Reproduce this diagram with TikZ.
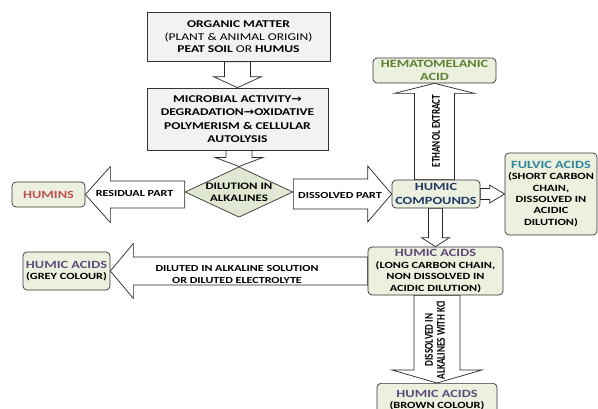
\documentclass[tikz,border=0pt]{standalone}
\usepackage{fontspec}
\setmainfont{Carlito}[FakeStretch=1.3]
\newfontfamily\arrfont{DejaVu Sans}[FakeStretch=1.2]
\newfontfamily\rotfont{Carlito}
\usetikzlibrary{shapes.geometric,backgrounds}

\definecolor{boxgreen}{HTML}{EBF1DE}
\definecolor{diagreen}{HTML}{E1E8D2}
\definecolor{boxgrey}{HTML}{F2F2F2}
\definecolor{huminred}{HTML}{C0504D}
\definecolor{hemagreen}{HTML}{5F7F32}
\definecolor{compblue}{HTML}{1F3864}
\definecolor{fulvteal}{HTML}{31859C}
\definecolor{acidpurple}{HTML}{604A7B}

\newcommand{\tarr}{{\arrfont\bfseries →}}
\newcommand{\ttl}[2]{{\color{#1}\fontsize{11}{13}\selectfont #2}}

% block arrow, vertical: start, tip, half shaft, half head, head length (+ down, - up)
\newcommand{\vblock}[5]{%
  \coordinate (vs) at (#1 -| #2);
  \draw[blk] ([xshift=-#3]vs) -- ([xshift=-#3,yshift=#5]#2) -- ([xshift=-#4,yshift=#5]#2)
    -- (#2) -- ([xshift=#4,yshift=#5]#2) -- ([xshift=#3,yshift=#5]#2) -- ([xshift=#3]vs) -- cycle;}
% block arrow, horizontal: start, tip, half shaft, half head, head length (+ left, - right)
\newcommand{\hblock}[5]{%
  \coordinate (hs) at (#1 |- #2);
  \draw[blk] ([yshift=#3]hs) -- ([xshift=#5,yshift=#3]#2) -- ([xshift=#5,yshift=#4]#2)
    -- (#2) -- ([xshift=#5,yshift=-#4]#2) -- ([xshift=#5,yshift=-#3]#2) -- ([yshift=-#3]hs) -- cycle;}

\begin{document}
\begin{tikzpicture}[x=1pt,y=-1pt,
  greybox/.style={draw=black!80, fill=boxgrey, align=center, inner sep=2pt, line width=0.7pt},
  greenbox/.style={draw=black!80, fill=boxgreen, rounded corners=4pt, align=center, inner sep=1pt,
    line width=0.7pt, font=\bfseries\fontsize{9.5}{11.6}\selectfont},
  decision/.style={diamond, draw=black!80, fill=diagreen, aspect=2.1, inner sep=0pt,
    minimum width=108pt, minimum height=50pt, align=center, line width=0.7pt,
    font=\bfseries\fontsize{9.9}{12}\selectfont},
  blk/.style={draw=black!85, fill=white, line width=0.7pt},
  lbl/.style={align=center, inner sep=0pt, font=\bfseries\fontsize{9.3}{12}\selectfont},
  rotlbl/.style={align=center, inner sep=0pt, rotate=90, yscale=1.3,
    font=\rotfont\bfseries\fontsize{9.2}{9.4}\selectfont}
]
  \useasboundingbox (0,0) rectangle (598,408);

  \node[greybox, minimum width=183pt, minimum height=49pt, font=\fontsize{10.4}{12.5}\selectfont]
    (org) at (238.5,37) {\textbf{ORGANIC MATTER}\\(PLANT \& ANIMAL ORIGIN)\\\textbf{PEAT SOIL} OR \textbf{HUMUS}};
  \node[greybox, minimum width=181pt, minimum height=62pt, font=\bfseries\fontsize{10.4}{13.5}\selectfont]
    (micro) at (237.5,119) {MICROBIAL ACTIVITY\tarr\\DEGRADATION\tarr OXIDATIVE\\POLYMERISM \& CELLULAR\\AUTOLYSIS};
  \node[decision] (dil) at (239,192) {DILUTION IN\\ALKALINES};

  \node[greenbox, minimum width=73pt, minimum height=25pt, text=huminred, font=\bfseries\fontsize{11}{13}\selectfont]
    (humins) at (48.5,194.5) {HUMINS};
  \node[greenbox, minimum width=88pt, minimum height=28pt, text=compblue, font=\bfseries\fontsize{11}{13.3}\selectfont]
    (hc) at (436,194) {HUMIC\\COMPOUNDS};
  \node[greenbox, minimum width=123pt, minimum height=25pt, text=hemagreen, font=\bfseries\fontsize{11}{12.5}\selectfont]
    (hema) at (434.5,70.5) {HEMATOMELANIC\\ACID};
  \node[greenbox, minimum width=92pt, minimum height=82pt, font=\bfseries\fontsize{9.5}{11.3}\selectfont]
    (fulvic) at (551,194) {\ttl{fulvteal}{FULVIC ACIDS}\\(SHORT CARBON\\CHAIN,\\DISSOLVED IN\\ACIDIC\\DILUTION)};
  \node[greenbox, minimum width=135pt, minimum height=48pt]
    (ha) at (435.5,271) {\ttl{acidpurple}{HUMIC ACIDS}\\(LONG CARBON CHAIN,\\NON DISSOLVED IN\\ACIDIC DILUTION)};
  \node[greenbox, minimum width=87pt, minimum height=38pt, font=\bfseries\fontsize{9.5}{11}\selectfont]
    (grey) at (66.5,271) {\ttl{acidpurple}{HUMIC ACIDS}\\(GREY COLOUR)};
  \node[greenbox, anchor=north, minimum width=120pt, minimum height=34pt, font=\bfseries\fontsize{9.5}{11.5}\selectfont]
    (brown) at (437,383) {\ttl{acidpurple}{HUMIC ACIDS}\\(BROWN COLOUR)};

  % arrow labels
  \node[lbl] (resid) at (134.5,193) {RESIDUAL PART};
  \node[lbl] (dissol) at (340,195) {DISSOLVED PART};
  \node[lbl] (dilut) at (237,274) {DILUTED IN ALKALINE SOLUTION\\OR DILUTED ELECTROLYTE};
  \node[rotlbl] (ethan) at (436,131) {ETHANOL EXTRACT};
  \node[rotlbl] (kcl) at (435,340) {DISSOLVED IN\\ALKALINES WITH KCl};

  \begin{scope}[on background layer]
    \vblock{org.south}{micro.north}{13}{24}{11}
    \vblock{micro.south}{dil.north}{13}{24}{9}
    \hblock{dil.west}{humins.east}{13.5}{28}{25}
    \hblock{dil.east}{hc.west}{15}{28}{-24}
    \vblock{hc.north}{hema.south}{20}{40}{-10}
    \hblock{hc.east}{fulvic.west}{5.5}{9}{-15}
    \vblock{hc.south}{ha.north}{7}{14}{9}
    \hblock{ha.west}{grey.east}{14}{27.5}{23}
    \vblock{ha.south}{brown.north}{23}{45}{13}
  \end{scope}
\end{tikzpicture}
\end{document}
